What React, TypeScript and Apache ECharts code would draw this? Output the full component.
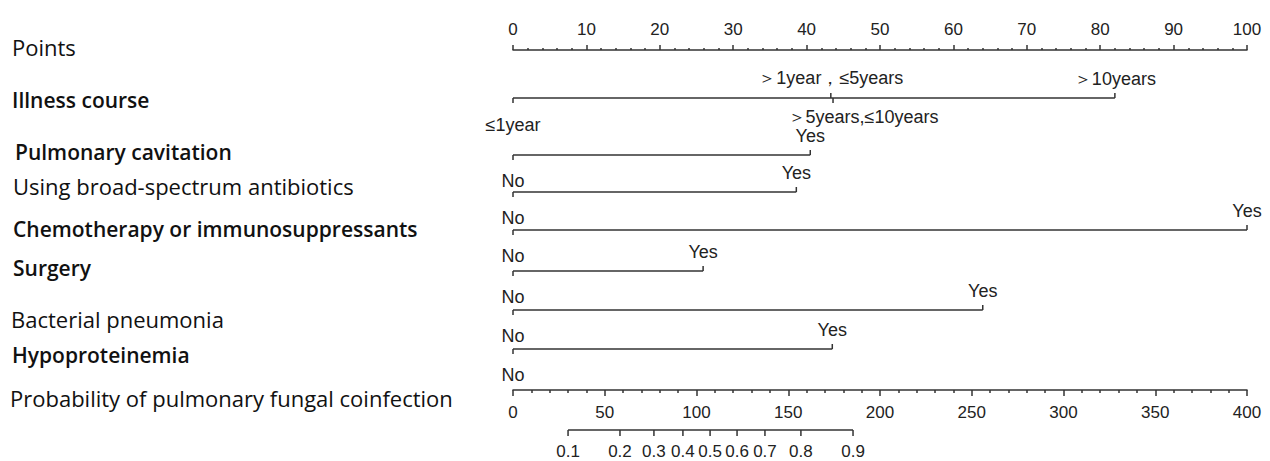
import React, { useEffect, useRef } from "react";
import * as echarts from "echarts";

// ---- data ----
const rowLabels = [
  "Points",
  "Illness course",
  "Pulmonary cavitation",
  "Using broad-spectrum antibiotics",
  "Chemotherapy or immunosuppressants",
  "Surgery",
  "Bacterial pneumonia",
  "Hypoproteinemia",
  "Probability of pulmonary fungal coinfection",
];
const illnessLevels = ["≤1year", "＞1year，≤5years", "＞5years,≤10years", "＞10years"];
const illnessPoints = [0, 43.3, 43.6, 82.0];
const binaryRows = [
  "Pulmonary cavitation",
  "Using broad-spectrum antibiotics",
  "Chemotherapy or immunosuppressants",
  "Surgery",
  "Bacterial pneumonia",
  "Hypoproteinemia",
];
const noPoints = [0, 0, 0, 0, 0, 0];
const yesPoints = [40.5, 38.6, 100, 25.9, 64.0, 43.5];
const probTicks = ["0.1", "0.2", "0.3", "0.4", "0.5", "0.6", "0.7", "0.8", "0.9"];
const probTotalPoints = [30.0, 58.3, 76.8, 92.6, 107.4, 122.1, 137.3, 156.9, 185.3];

// ---- layout (page pixels) ----
const labelX = [12, 12, 15, 13, 13, 13, 11, 12, 10];
const labelY = [47, 100, 152, 186, 229, 268, 319, 355, 398];
const labelBold = [false, true, true, false, true, true, false, true, false];
const illnessLineY = 98;
const binaryLineY = [155, 192, 230, 271, 310, 349];
const illnessLabelDy = [27, -20, 19, -19];
const illnessLabelDx = [0, 0, 30, 0];
const probLineY = 430;

const LINE = "#333";
const TXT = "#222";
const NUMFONT = "Liberation Sans, Arial, sans-serif";

export default function App() {
  const ref = useRef<HTMLDivElement>(null);
  useEffect(() => {
    document.body.style.margin = "0";
    if (!ref.current) return;
    const chart = echarts.init(ref.current, undefined, { renderer: "svg" });

    const tickLen = 5;
    const mkText = (x: number, y: number, text: string, size = 17) => ({
      type: "text",
      x,
      y,
      style: {
        text,
        fill: TXT,
        font: `${size}px ${NUMFONT}`,
        align: "center",
        verticalAlign: "middle",
      },
    });

    const rowItems = [
      { kind: "illness" },
      ...binaryRows.map((_, i) => ({ kind: "binary", idx: i })),
    ];

    const renderRow = (params: any, api: any) => {
      const idx = params.dataIndex;
      const item = rowItems[idx];
      const children: any[] = [];
      if (item.kind === "illness") {
        const y = illnessLineY;
        const p0 = api.coord([illnessPoints[0], y]);
        const p1 = api.coord([illnessPoints[illnessPoints.length - 1], y]);
        children.push({
          type: "line",
          shape: { x1: p0[0], y1: p0[1], x2: p1[0], y2: p1[1] },
          style: { stroke: LINE, lineWidth: 1.5 },
        });
        illnessPoints.forEach((v, k) => {
          const p = api.coord([v, y]);
          const dir = illnessLabelDy[k] > 0 ? 1 : -1;
          children.push({
            type: "line",
            shape: { x1: p[0], y1: p[1], x2: p[0], y2: p[1] + dir * tickLen },
            style: { stroke: LINE, lineWidth: 1.5 },
          });
          children.push(mkText(p[0] + illnessLabelDx[k], p[1] + illnessLabelDy[k], illnessLevels[k], 18));
        });
      } else {
        const i = item.idx as number;
        const y = binaryLineY[i];
        const p0 = api.coord([noPoints[i], y]);
        const p1 = api.coord([yesPoints[i], y]);
        children.push({
          type: "line",
          shape: { x1: p0[0], y1: p0[1], x2: p1[0], y2: p1[1] },
          style: { stroke: LINE, lineWidth: 1.5 },
        });
        children.push({
          type: "line",
          shape: { x1: p0[0], y1: p0[1], x2: p0[0], y2: p0[1] + tickLen },
          style: { stroke: LINE, lineWidth: 1.5 },
        });
        children.push({
          type: "line",
          shape: { x1: p1[0], y1: p1[1], x2: p1[0], y2: p1[1] - tickLen },
          style: { stroke: LINE, lineWidth: 1.5 },
        });
        children.push(mkText(p0[0], p0[1] + 26, "No", 18));
        children.push(mkText(p1[0], p1[1] - 19, "Yes", 18));
      }
      return { type: "group", children };
    };

    const renderProb = (params: any, api: any) => {
      const children: any[] = [];
      const y = probLineY;
      const p0 = api.coord([probTotalPoints[0], y]);
      const p1 = api.coord([probTotalPoints[probTotalPoints.length - 1], y]);
      children.push({
        type: "line",
        shape: { x1: p0[0], y1: p0[1], x2: p1[0], y2: p1[1] },
        style: { stroke: LINE, lineWidth: 1.5 },
      });
      probTotalPoints.forEach((v, k) => {
        const p = api.coord([v, y]);
        children.push({
          type: "line",
          shape: { x1: p[0], y1: p[1], x2: p[0], y2: p[1] + 6 },
          style: { stroke: LINE, lineWidth: 1.5 },
        });
        children.push(mkText(p[0], p[1] + 21, probTicks[k]));
      });
      return { type: "group", children };
    };

    const graphics = rowLabels.map((t, i) => ({
      type: "text",
      x: labelX[i],
      y: labelY[i],
      style: {
        text: t,
        fill: "#111",
        font: `${labelBold[i] ? "600 21px" : "400 22px"} 'Open Sans', sans-serif`,
        verticalAlign: "middle",
        align: "left",
      },
    }));

    const axisCommon = {
      type: "value",
      axisLine: { show: true, lineStyle: { color: LINE, width: 1.5 } },
      axisTick: { show: true, length: 5, lineStyle: { color: LINE, width: 1.5 } },
      splitLine: { show: false },
      minorSplitLine: { show: false },
      axisLabel: { color: TXT, fontSize: 17, fontFamily: NUMFONT },
    };

    chart.setOption({
      animation: false,
      backgroundColor: "#fff",
      grid: { left: 513, right: 23, top: 50, bottom: 71 },
      xAxis: [
        {
          ...axisCommon,
          position: "top",
          min: 0,
          max: 100,
          interval: 10,
          minorTick: { show: true, splitNumber: 5, length: 2, lineStyle: { color: LINE, width: 1.5 } },
          axisLabel: { ...axisCommon.axisLabel, margin: 12 },
        },
        {
          ...axisCommon,
          position: "bottom",
          min: 0,
          max: 400,
          interval: 50,
          axisTick: { show: true, length: 6, lineStyle: { color: LINE, width: 1.5 } },
          minorTick: { show: true, splitNumber: 5, length: 3, lineStyle: { color: LINE, width: 1.5 } },
          axisLabel: { ...axisCommon.axisLabel, margin: 14 },
        },
      ],
      yAxis: { type: "value", min: 50, max: 390, inverse: true, show: false },
      graphic: graphics,
      series: [
        {
          type: "custom",
          xAxisIndex: 0,
          yAxisIndex: 0,
          clip: false,
          renderItem: renderRow,
          data: rowItems.map((_, i) => [i]),
          silent: true,
        },
        {
          type: "custom",
          xAxisIndex: 1,
          yAxisIndex: 0,
          clip: false,
          renderItem: renderProb,
          data: [[0]],
          silent: true,
        },
      ],
    });
    return () => chart.dispose();
  }, []);
  return <div ref={ref} style={{ width: 1270, height: 461 }} />;
}
